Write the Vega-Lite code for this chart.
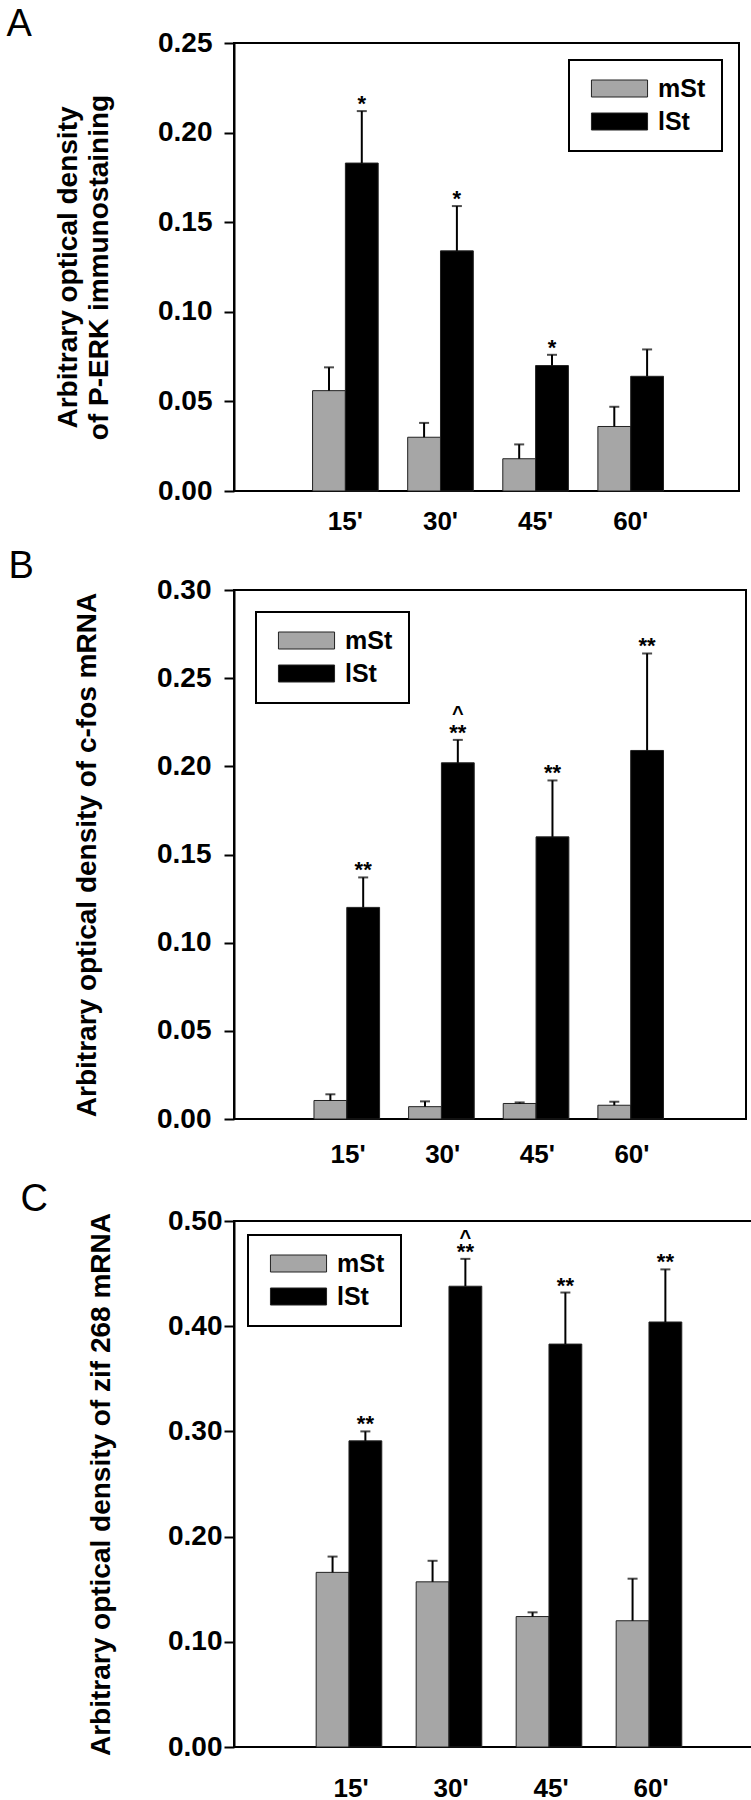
{
  "$schema": "https://vega.github.io/schema/vega-lite/v6.json",
  "background": "white",
  "padding": 5,
  "spacing": 12,
  "config": {
    "font": "Liberation Sans",
    "view": {"stroke": "black", "strokeWidth": 2},
    "axis": {"domainColor": "black", "domainWidth": 2, "tickColor": "black", "tickWidth": 2, "labelColor": "black", "titleColor": "black", "grid": false, "labelFont": "Liberation Sans", "titleFont": "Liberation Sans"},
    "axisY": {"format": ".2f", "labelFontSize": 28, "labelFontWeight": "bold", "tickSize": 10, "titleFontSize": 28, "titleFontWeight": "bold", "titleLineHeight": 31},
    "title": {"font": "Liberation Sans", "fontWeight": "normal", "fontSize": 38, "anchor": "start", "frame": "bounds", "color": "black"},
    "legend": {"strokeColor": "black", "strokeWidth": 2, "fillColor": "white", "padding": 16, "symbolType": "M-3.3,-1H3.3V1H-3.3Z", "symbolSize": 289, "symbolOffset": 22, "symbolStrokeColor": "#222", "symbolStrokeWidth": 1, "labelFontSize": 25, "labelFontWeight": "bold", "labelFont": "Liberation Sans", "labelColor": "black", "rowPadding": 7, "labelOffset": 26}
  },
  "data": {"values": [
    {"panel": "A", "time": "15'", "group": "mSt", "value": 0.056, "upper": 0.069, "sig": "", "hat": ""},
    {"panel": "A", "time": "15'", "group": "lSt", "value": 0.183, "upper": 0.212, "sig": "*", "hat": ""},
    {"panel": "A", "time": "30'", "group": "mSt", "value": 0.030, "upper": 0.038, "sig": "", "hat": ""},
    {"panel": "A", "time": "30'", "group": "lSt", "value": 0.134, "upper": 0.159, "sig": "*", "hat": ""},
    {"panel": "A", "time": "45'", "group": "mSt", "value": 0.018, "upper": 0.026, "sig": "", "hat": ""},
    {"panel": "A", "time": "45'", "group": "lSt", "value": 0.070, "upper": 0.076, "sig": "*", "hat": ""},
    {"panel": "A", "time": "60'", "group": "mSt", "value": 0.036, "upper": 0.047, "sig": "", "hat": ""},
    {"panel": "A", "time": "60'", "group": "lSt", "value": 0.064, "upper": 0.079, "sig": "", "hat": ""},
    {"panel": "B", "time": "15'", "group": "mSt", "value": 0.0105, "upper": 0.014, "sig": "", "hat": ""},
    {"panel": "B", "time": "15'", "group": "lSt", "value": 0.120, "upper": 0.137, "sig": "**", "hat": ""},
    {"panel": "B", "time": "30'", "group": "mSt", "value": 0.007, "upper": 0.010, "sig": "", "hat": ""},
    {"panel": "B", "time": "30'", "group": "lSt", "value": 0.202, "upper": 0.215, "sig": "**", "hat": "^"},
    {"panel": "B", "time": "45'", "group": "mSt", "value": 0.0088, "upper": 0.0094, "sig": "", "hat": ""},
    {"panel": "B", "time": "45'", "group": "lSt", "value": 0.160, "upper": 0.192, "sig": "**", "hat": ""},
    {"panel": "B", "time": "60'", "group": "mSt", "value": 0.0078, "upper": 0.0098, "sig": "", "hat": ""},
    {"panel": "B", "time": "60'", "group": "lSt", "value": 0.209, "upper": 0.264, "sig": "**", "hat": ""},
    {"panel": "C", "time": "15'", "group": "mSt", "value": 0.166, "upper": 0.181, "sig": "", "hat": ""},
    {"panel": "C", "time": "15'", "group": "lSt", "value": 0.291, "upper": 0.300, "sig": "**", "hat": ""},
    {"panel": "C", "time": "30'", "group": "mSt", "value": 0.157, "upper": 0.177, "sig": "", "hat": ""},
    {"panel": "C", "time": "30'", "group": "lSt", "value": 0.438, "upper": 0.464, "sig": "**", "hat": "^"},
    {"panel": "C", "time": "45'", "group": "mSt", "value": 0.124, "upper": 0.128, "sig": "", "hat": ""},
    {"panel": "C", "time": "45'", "group": "lSt", "value": 0.383, "upper": 0.432, "sig": "**", "hat": ""},
    {"panel": "C", "time": "60'", "group": "mSt", "value": 0.120, "upper": 0.160, "sig": "", "hat": ""},
    {"panel": "C", "time": "60'", "group": "lSt", "value": 0.404, "upper": 0.454, "sig": "**", "hat": ""}
  ]},
  "vconcat": [
    {
      "title": {"text": "A", "dx": -48, "offset": -15},
      "width": 505, "height": 448,
      "transform": [{"filter": "datum.panel === 'A'"}],
      "encoding": {
        "x": {"field": "time", "type": "nominal", "sort": ["15'", "30'", "45'", "60'"], "title": null,
              "scale": {"paddingInner": 0.31, "paddingOuter": 0.81, "align": 0.51},
              "axis": {"domain": false, "ticks": false, "labelAngle": 0, "labelFontSize": 26, "labelFontWeight": "bold", "labelPadding": 17}},
        "xOffset": {"field": "group", "type": "nominal", "sort": ["mSt", "lSt"], "scale": {"paddingInner": 0, "paddingOuter": 0}}
      },
      "layer": [
        {"mark": {"type": "bar", "stroke": "#222", "strokeWidth": 1},
         "encoding": {
           "y": {"field": "value", "type": "quantitative", "scale": {"domain": [0, 0.25], "nice": false, "zero": true},
                 "title": ["Arbitrary optical density", "of P-ERK immunostaining"],
                 "axis": {"values": [0, 0.05, 0.1, 0.15, 0.2, 0.25], "labelPadding": 12, "titlePadding": 44}},
           "color": {"field": "group", "type": "nominal", "scale": {"domain": ["mSt", "lSt"], "range": ["#a6a6a6", "#000000"]},
                     "legend": {"title": null, "orient": "top-right", "offset": 17}}
         }},
        {"mark": {"type": "rule", "color": "black", "strokeWidth": 2},
         "encoding": {"y": {"field": "value", "type": "quantitative", "title": ["Arbitrary optical density", "of P-ERK immunostaining"]}, "y2": {"field": "upper"}}},
        {"mark": {"type": "tick", "color": "black", "thickness": 2, "size": 10},
         "encoding": {"y": {"field": "upper", "type": "quantitative", "title": ["Arbitrary optical density", "of P-ERK immunostaining"]}}},
        {"mark": {"type": "text", "fontSize": 22, "fontWeight": "bold", "baseline": "alphabetic", "color": "black"},
         "encoding": {"y": {"field": "upper", "type": "quantitative", "title": ["Arbitrary optical density", "of P-ERK immunostaining"]}, "text": {"field": "sig"}}}
      ]
    },
    {
      "title": {"text": "B", "dx": -65, "offset": -10},
      "width": 512, "height": 529,
      "transform": [{"filter": "datum.panel === 'B'"}],
      "encoding": {
        "x": {"field": "time", "type": "nominal", "sort": ["15'", "30'", "45'", "60'"], "title": null,
              "scale": {"paddingInner": 0.28, "paddingOuter": 0.845},
              "axis": {"domain": false, "ticks": false, "labelAngle": 0, "labelFontSize": 26, "labelFontWeight": "bold", "labelPadding": 22}},
        "xOffset": {"field": "group", "type": "nominal", "sort": ["mSt", "lSt"], "scale": {"paddingInner": 0, "paddingOuter": 0}}
      },
      "layer": [
        {"mark": {"type": "bar", "stroke": "#222", "strokeWidth": 1},
         "encoding": {
           "y": {"field": "value", "type": "quantitative", "scale": {"domain": [0, 0.3], "nice": false, "zero": true},
                 "title": "Arbitrary optical density of c-fos mRNA",
                 "axis": {"values": [0, 0.05, 0.1, 0.15, 0.2, 0.25, 0.3], "labelPadding": 13, "titlePadding": 55}},
           "color": {"field": "group", "type": "nominal", "scale": {"domain": ["mSt", "lSt"], "range": ["#a6a6a6", "#000000"]},
                     "legend": {"title": null, "orient": "top-left", "offset": 22}}
         }},
        {"mark": {"type": "rule", "color": "black", "strokeWidth": 2},
         "encoding": {"y": {"field": "value", "type": "quantitative", "title": "Arbitrary optical density of c-fos mRNA"}, "y2": {"field": "upper"}}},
        {"mark": {"type": "tick", "color": "black", "thickness": 2, "size": 10},
         "encoding": {"y": {"field": "upper", "type": "quantitative", "title": "Arbitrary optical density of c-fos mRNA"}}},
        {"mark": {"type": "text", "fontSize": 22, "fontWeight": "bold", "baseline": "alphabetic", "color": "black"},
         "encoding": {"y": {"field": "upper", "type": "quantitative", "title": "Arbitrary optical density of c-fos mRNA"}, "text": {"field": "sig"}}},
        {"mark": {"type": "text", "fontSize": 20, "fontWeight": "bold", "baseline": "alphabetic", "color": "black", "dy": -20},
         "encoding": {"y": {"field": "upper", "type": "quantitative", "title": "Arbitrary optical density of c-fos mRNA"}, "text": {"field": "hat"}}}
      ]
    },
    {
      "title": {"text": "C", "dx": -67, "offset": -12},
      "width": 528, "height": 526,
      "transform": [{"filter": "datum.panel === 'C'"}],
      "encoding": {
        "x": {"field": "time", "type": "nominal", "sort": ["15'", "30'", "45'", "60'"], "title": null,
              "scale": {"paddingInner": 0.3, "paddingOuter": 0.79, "align": 0.52},
              "axis": {"domain": false, "ticks": false, "labelAngle": 0, "labelFontSize": 26, "labelFontWeight": "bold", "labelPadding": 28}},
        "xOffset": {"field": "group", "type": "nominal", "sort": ["mSt", "lSt"], "scale": {"paddingInner": 0, "paddingOuter": 0}}
      },
      "layer": [
        {"mark": {"type": "bar", "stroke": "#222", "strokeWidth": 1},
         "encoding": {
           "y": {"field": "value", "type": "quantitative", "scale": {"domain": [0, 0.5], "nice": false, "zero": true},
                 "title": "Arbitrary optical density of  zif 268 mRNA",
                 "axis": {"values": [0, 0.1, 0.2, 0.3, 0.4, 0.5], "labelPadding": 2, "titlePadding": 52}},
           "color": {"field": "group", "type": "nominal", "scale": {"domain": ["mSt", "lSt"], "range": ["#a6a6a6", "#000000"]},
                     "legend": {"title": null, "orient": "top-left", "offset": 14}}
         }},
        {"mark": {"type": "rule", "color": "black", "strokeWidth": 2},
         "encoding": {"y": {"field": "value", "type": "quantitative", "title": "Arbitrary optical density of  zif 268 mRNA"}, "y2": {"field": "upper"}}},
        {"mark": {"type": "tick", "color": "black", "thickness": 2, "size": 10},
         "encoding": {"y": {"field": "upper", "type": "quantitative", "title": "Arbitrary optical density of  zif 268 mRNA"}}},
        {"mark": {"type": "text", "fontSize": 22, "fontWeight": "bold", "baseline": "alphabetic", "color": "black"},
         "encoding": {"y": {"field": "upper", "type": "quantitative", "title": "Arbitrary optical density of  zif 268 mRNA"}, "text": {"field": "sig"}}},
        {"mark": {"type": "text", "fontSize": 20, "fontWeight": "bold", "baseline": "alphabetic", "color": "black", "dy": -15},
         "encoding": {"y": {"field": "upper", "type": "quantitative", "title": "Arbitrary optical density of  zif 268 mRNA"}, "text": {"field": "hat"}}}
      ]
    }
  ],
  "resolve": {"scale": {"color": "independent"}, "legend": {"color": "independent"}}
}
